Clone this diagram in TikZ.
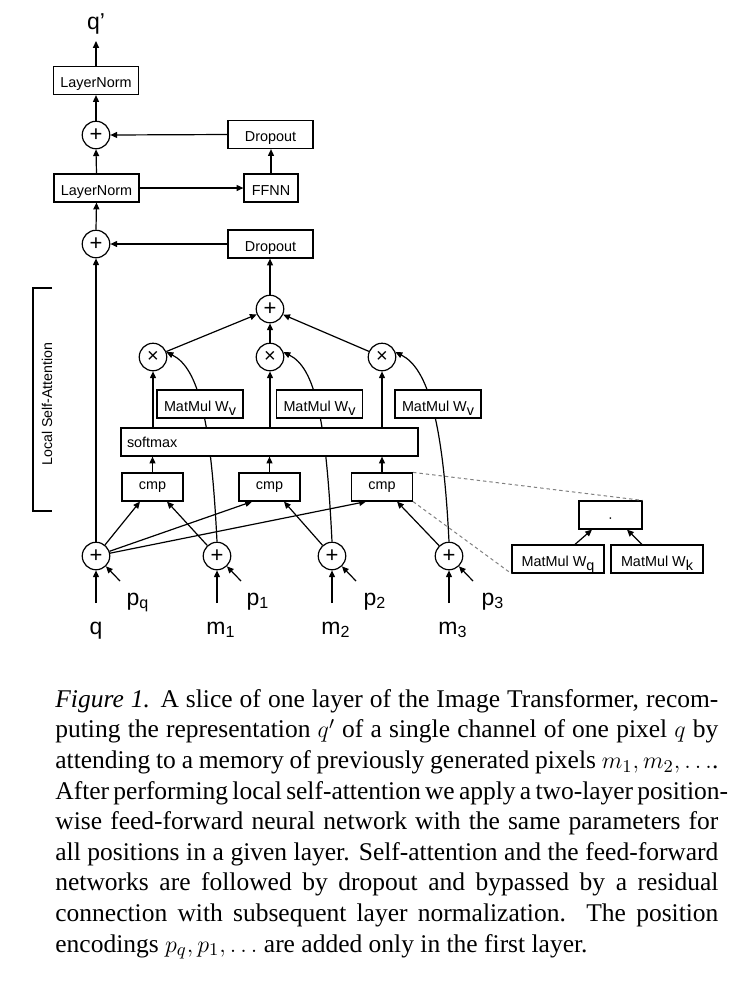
\documentclass[tikz,border=0pt]{standalone}
\usepackage{fontspec}
\setmainfont{Liberation Serif}
\newfontfamily\sansf{Liberation Sans}
\usetikzlibrary{arrows.meta,calc,backgrounds}
\newcommand{\capfont}{\fontsize{12.75}{15.3}\selectfont}
\newcommand{\capline}[1]{\makebox[331.5pt][s]{#1}}
\newcommand{\bsub}[1]{\raisebox{-0.3em}{#1}}
\begin{document}
\begin{tikzpicture}[x=0.5pt,y=-0.5pt,
  box/.style={draw, line width=0.6pt, fill=white, minimum height=14pt, inner sep=0pt, font=\sansf\fontsize{7.2}{8.6}\selectfont},
  capbox/.style={box, text height=0.716em, text depth=0pt},
  opc/.style={draw, circle, line width=0.6pt, minimum size=13.75pt, inner sep=0pt, fill=white},
  plusc/.style={opc, font=\sansf\fontsize{11}{12}\selectfont},
  timesc/.style={opc, font=\sansf\fontsize{10}{11}\selectfont},
  arr/.style={-{Triangle[length=3.4pt,width=3pt]}, line width=0.6pt},
  lbl/.style={inner sep=0pt, font=\sansf\fontsize{11.5}{13}\selectfont},
  dashln/.style={draw=black!50, dash pattern=on 1.7pt off 1.5pt, line width=0.5pt},
  brk/.style={line width=0.6pt},
]
\useasboundingbox (0,0) rectangle (730,982);

% upper part
\node[capbox, minimum width=42.5pt] (ln2) at (96,80.5) {LayerNorm};
\node[plusc] (ad3) at (96,135) {+};
\node[capbox, minimum width=42.5pt] (do2) at (270.5,134.5) {Dropout};
\node[capbox, minimum width=42.5pt] (ln1) at (96.5,188) {LayerNorm};
\node[capbox, minimum width=27pt] (ffnn) at (271,188) {FFNN};
\node[plusc] (ad2) at (96,244) {+};
\node[capbox, minimum width=42.5pt] (do1) at (270.5,244) {Dropout};
\node[plusc] (sum) at (270,309) {+};

% attention
\node[timesc] (x1) at (153,357) {×};
\node[timesc] (x2) at (270,357) {×};
\node[timesc] (x3) at (382,357) {×};
\node[capbox, minimum width=43pt] (mv1) at (200,404) {MatMul W\bsub{v}};
\node[capbox, minimum width=43pt] (mv2) at (319.5,404) {MatMul W\bsub{v}};
\node[capbox, minimum width=43pt] (mv3) at (438,404) {MatMul W\bsub{v}};
\node[box, text width=142.5pt, inner xsep=3pt, align=left] (sm) at (269.5,442) {softmax};
\node[box, minimum width=30.5pt] (cmp1) at (152.5,487) {cmp};
\node[box, minimum width=30.5pt] (cmp2) at (269.5,487) {cmp};
\node[box, minimum width=30.5pt] (cmp3) at (382,487) {cmp};

% inputs
\node[plusc] (cq) at (96,556) {+};
\node[plusc] (c1) at (217,556) {+};
\node[plusc] (c2) at (332,556) {+};
\node[plusc] (c3) at (449,556) {+};

% detail of cmp
\node[capbox, minimum width=31.5pt] (dot) at (610.5,515) {·};
\node[capbox, minimum width=46pt] (wq) at (558,559) {MatMul W\bsub{q}};
\node[capbox, minimum width=46pt] (wk) at (657,559) {MatMul W\bsub{k}};

% labels
\node[lbl, anchor=base] (lqp) at (96,29) {q’};
\coordinate (qtop) at (96,41);
\node[lbl, anchor=base] (lq) at (96,634) {q};
\node[lbl, anchor=base] (lm1) at (216,634) {m\rlap{\textsubscript{1}}};
\node[lbl, anchor=base] (lm2) at (331,634) {m\rlap{\textsubscript{2}}};
\node[lbl, anchor=base] (lm3) at (448,634) {m\rlap{\textsubscript{3}}};
\node[lbl, anchor=base] (lpq) at (133,605) {p\rlap{\textsubscript{q}}};
\node[lbl, anchor=base] (lp1) at (253,605) {p\rlap{\textsubscript{1}}};
\node[lbl, anchor=base] (lp2) at (370,605) {p\rlap{\textsubscript{2}}};
\node[lbl, anchor=base] (lp3) at (488,605) {p\rlap{\textsubscript{3}}};

\coordinate (iq) at (96,603);
\coordinate (i1) at (217,603);
\coordinate (i2) at (332,603);
\coordinate (i3) at (449,603);
\coordinate (pq) at (120,581);
\coordinate (p1) at (241,581);
\coordinate (p2) at (356,581);
\coordinate (p3) at (473,581);

% value curves (behind boxes)
\begin{pgfonlayer}{background}
\draw[arr] (c1.north) .. controls ($(c1.north)+(-6,-122)$) and ($(x1.20)+(32,16)$) .. (x1.20);
\draw[arr] (c2.north) .. controls ($(c2.north)+(-6,-122)$) and ($(x2.20)+(32,16)$) .. (x2.20);
\draw[arr] (c3.north) .. controls ($(c3.north)+(-6,-122)$) and ($(x3.20)+(32,16)$) .. (x3.20);
\end{pgfonlayer}

% residual / upper connectors
\draw[arr] (ln2.north) -- (qtop);
\draw[arr] (ad3.north) -- (ln2.south);
\draw[arr] (ln1.north) -- (ad3.south);
\draw[arr] (ad2.north) -- (ln1.south);
\draw[arr] (cq.north) -- (ad2.south);
\draw[arr] (do2.west) -- (ad3.east);
\draw[arr] (ffnn.north) -- (ffnn.north |- do2.south);
\draw[arr] (ln1.east) -- (ffnn.west);
\draw[arr] (do1.west) -- (ad2.east);
\draw[arr] (sum.north) -- (sum.north |- do1.south);

% attention connectors
\draw[arr] (x1) -- (sum);
\draw[arr] (x2.north) -- (sum.south);
\draw[arr] (x3) -- (sum);
\draw[arr] (x1 |- sm.north) -- (x1.south);
\draw[arr] (x2 |- sm.north) -- (x2.south);
\draw[arr] (x3 |- sm.north) -- (x3.south);
\draw[arr] (cmp1.north) -- (cmp1.north |- sm.south);
\draw[arr] (cmp2.north) -- (cmp2.north |- sm.south);
\draw[arr] (cmp3.north) -- (cmp3.north |- sm.south);

\draw[arr] (cq) -- ($(cmp1.south)+(-12.5,0)$);
\draw[arr] (cq) -- ($(cmp2.south)+(-17.5,0)$);
\draw[arr] (cq) -- ($(cmp3.south)+(-16,0)$);
\draw[arr] (c1) -- ($(cmp1.south)+(14.5,0)$);
\draw[arr] (c2) -- ($(cmp2.south)+(14.5,0)$);
\draw[arr] (c3) -- ($(cmp3.south)+(15,0)$);

% inputs
\draw[arr] (iq) -- (cq.south);
\draw[arr] (i1) -- (c1.south);
\draw[arr] (i2) -- (c2.south);
\draw[arr] (i3) -- (c3.south);
\draw[arr] (pq) -- (cq);
\draw[arr] (p1) -- (c1);
\draw[arr] (p2) -- (c2);
\draw[arr] (p3) -- (c3);

% detail
\draw[dashln] (cmp3.north east) -- (dot.north east);
\draw[dashln] (cmp3.south east) -- (wq.south west);
\draw[arr] ($(wq.north)+(17,0)$) -- ($(dot.south)+(-18.5,0)$);
\draw[arr] ($(wk.north)+(-15,0)$) -- ($(dot.south)+(16.5,0)$);

% bracket
\coordinate (b1) at (52,288);
\coordinate (b2) at (33,288);
\coordinate (b3) at (33,511);
\coordinate (b4) at (52,511);
\draw[brk] (b1) -- (b2) -- (b3) -- (b4);
\node[rotate=90, inner sep=0pt, font=\sansf\fontsize{7.1}{8.5}\selectfont] (lsa) at (47,404) {Local Self-Attention};

% caption
\node[anchor=north west, inner sep=0pt, align=left, font=\capfont] (cap) at (55,689) {%
\capline{\textit{Figure 1.} A slice of one layer of the Image Transformer, recom-}\\
\capline{puting the representation $q'$ of a single channel of one pixel $q$ by}\\
\capline{attending to a memory of previously generated pixels $m_1, m_2, \ldots$.}\\
\capline{After performing local self-attention we apply a two-layer position-}\\
\capline{wise feed-forward neural network with the same parameters for}\\
\capline{all positions in a given layer. Self-attention and the feed-forward}\\
\capline{networks are followed by dropout and bypassed by a residual}\\
\capline{connection with subsequent layer normalization.\ \ The position}\\
\makebox[331.5pt][l]{encodings $p_q, p_1, \ldots$ are added only in the first layer.}};
\end{tikzpicture}
\end{document}
